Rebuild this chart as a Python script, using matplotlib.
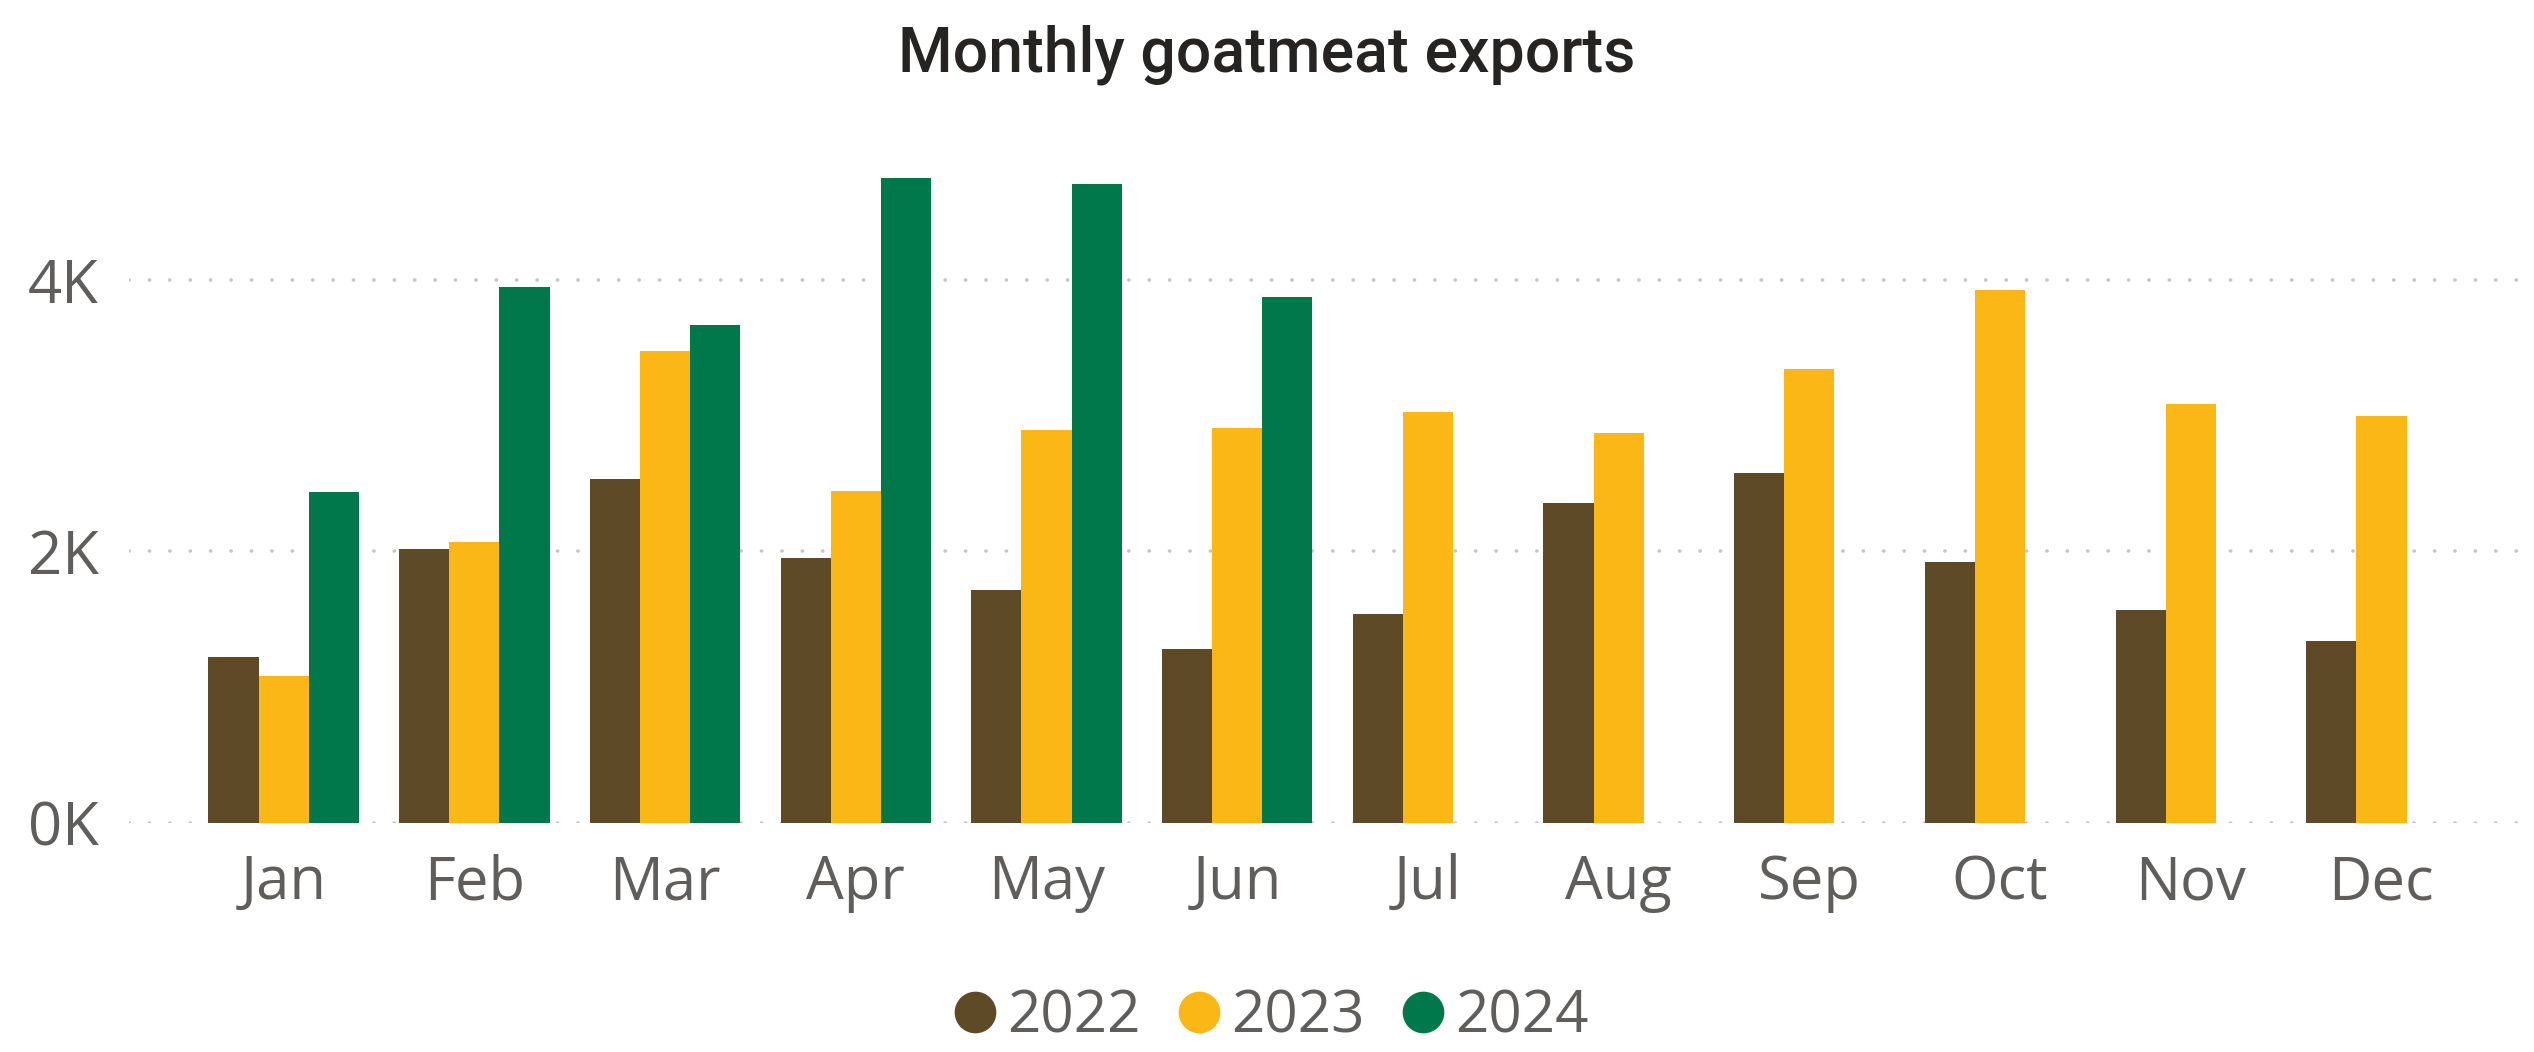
import numpy as np
import matplotlib.pyplot as plt
from matplotlib.lines import Line2D

# data (values in units)
months = ['Jan', 'Feb', 'Mar', 'Apr', 'May', 'Jun', 'Jul', 'Aug', 'Sep', 'Oct', 'Nov', 'Dec']
years = ['2022', '2023', '2024']
y2022 = [1218, 2020, 2530, 1949, 1712, 1277, 1534, 2353, 2580, 1919, 1564, 1337]
y2023 = [1080, 2067, 3475, 2442, 2893, 2906, 3025, 2870, 3340, 3923, 3084, 2995]
y2024 = [2435, 3950, 3666, 4750, 4706, 3870, np.nan, np.nan, np.nan, np.nan, np.nan, np.nan]
colors = ['#5E4A26', '#FBB716', '#01784B']

fig = plt.figure(figsize=(25.34, 10.52), dpi=100)
ax = fig.add_axes([0.051, 0.218, 0.949, 0.645])

x = np.arange(len(months))
w = 0.263
for i, (vals, c) in enumerate(zip([y2022, y2023, y2024], colors)):
    ax.bar(x + (i - 1) * w, vals, width=w, color=c, zorder=3)

ax.set_xlim(-0.81, 11.8)
ax.set_ylim(0, 5000)
ax.set_yticks([0, 2000, 4000])
ax.set_yticklabels(['0K', '2K', '4K'])
ax.set_xticks(x)
ax.set_xticklabels(months)

txtc = '#605E5C'
font = ['Open Sans', 'DejaVu Sans']
for lab in ax.get_xticklabels() + ax.get_yticklabels():
    lab.set_fontfamily(font)
    lab.set_fontsize(43)
    lab.set_color(txtc)
ax.tick_params(axis='both', length=0)
ax.tick_params(axis='x', pad=22)
ax.tick_params(axis='y', pad=22)

for s in ax.spines.values():
    s.set_visible(False)
ax.yaxis.grid(True, color='#C8C6C4', linestyle=(0, (0.05, 5.6)), linewidth=2.6,
              dash_capstyle='round', zorder=0)
ax.set_axisbelow(True)

fig.text(0.5, 0.948, 'Monthly goatmeat exports', ha='center', va='center',
         fontsize=45, color='#252423', fontweight='medium',
         family=['Roboto', 'DejaVu Sans'])

handles = [Line2D([], [], marker='o', linestyle='', markersize=29, color=c) for c in colors]
leg = fig.legend(handles, years, loc='center', bbox_to_anchor=(0.5, 0.033), ncol=3,
                 frameon=False, handletextpad=0.05, columnspacing=0.5, handlelength=1.0,
                 prop={'family': font, 'size': 42})
for t in leg.get_texts():
    t.set_color(txtc)

fig.savefig('out.png', dpi=100)
